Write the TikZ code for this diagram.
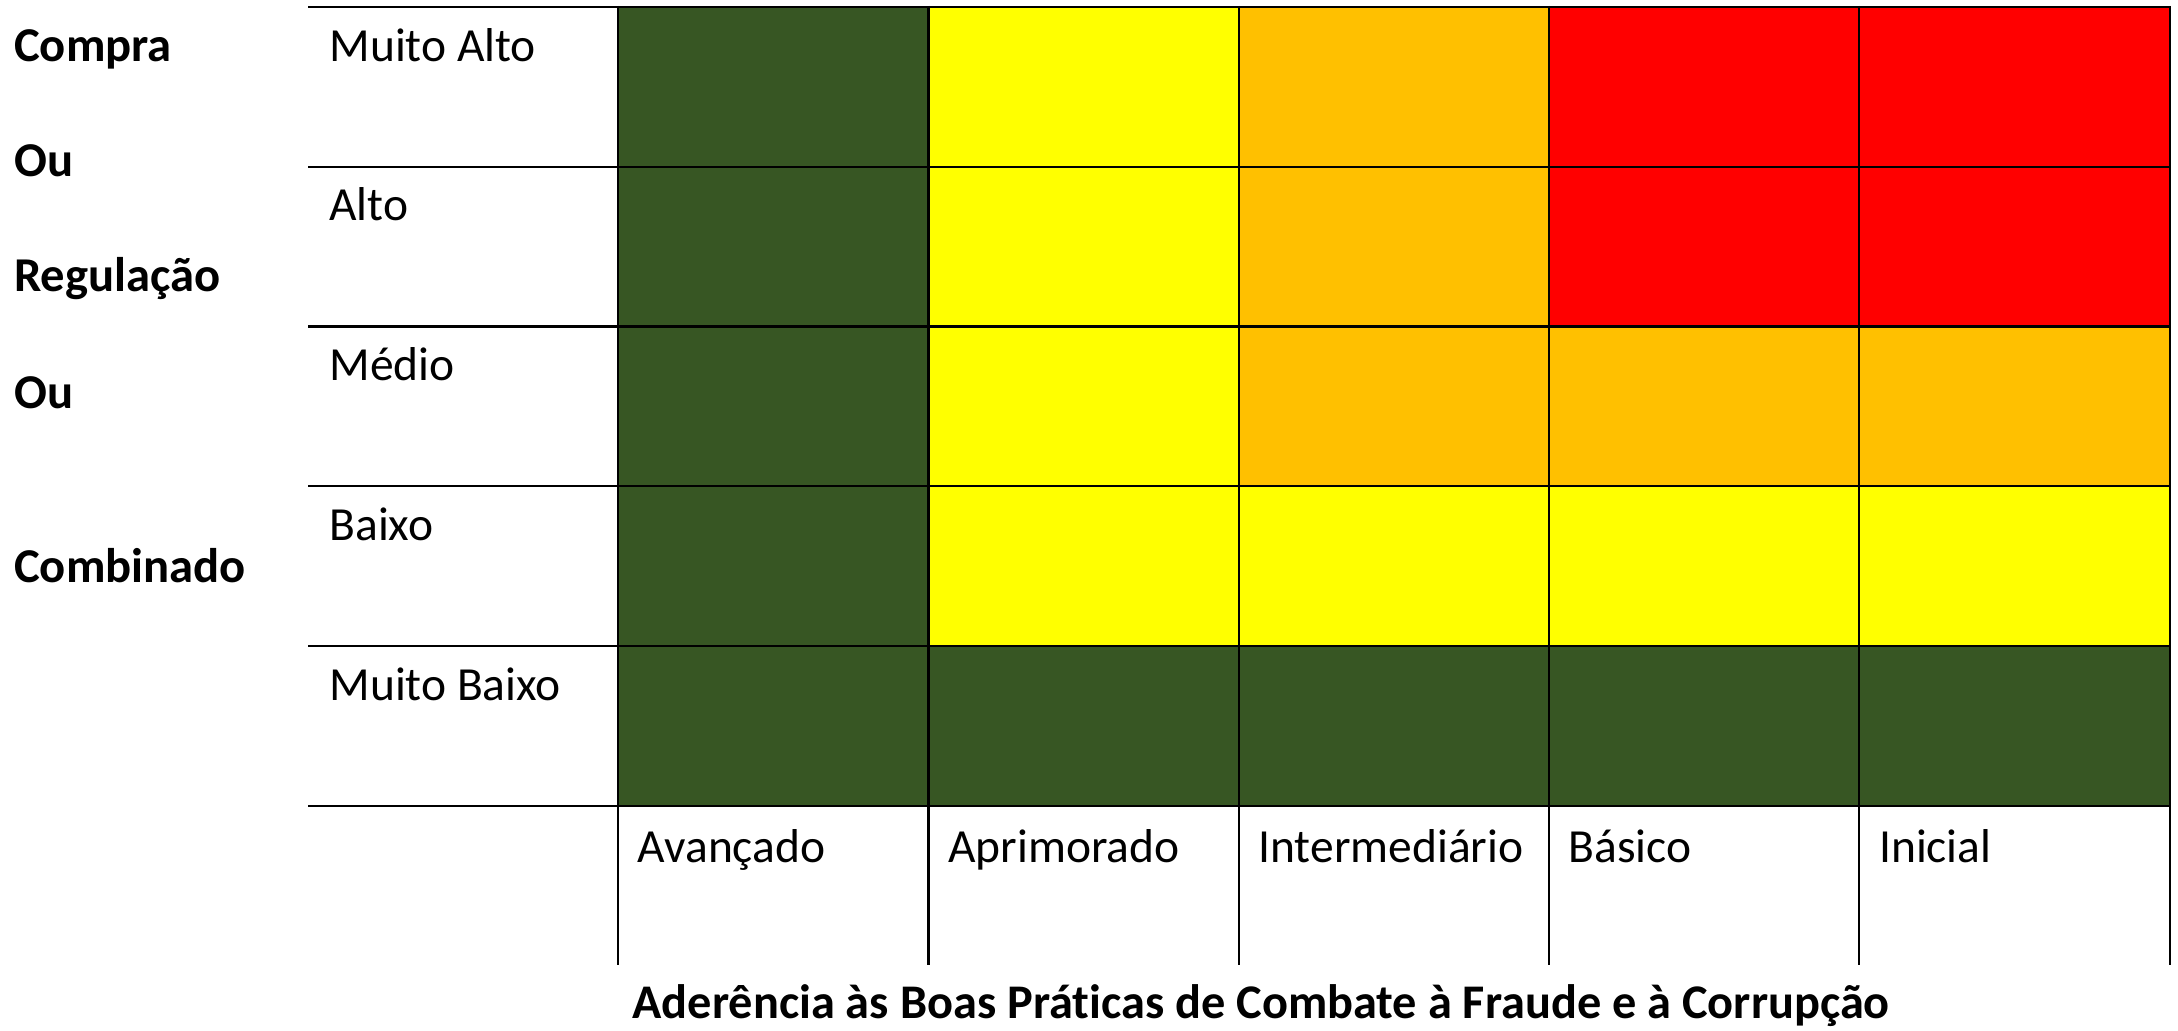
\documentclass[tikz,border=0pt]{standalone}
\usepackage{fontspec}
\setmainfont{Carlito}[Ligatures=NoCommon]
\definecolor{cgreen}{RGB}{55,86,35}
\definecolor{cyellow}{RGB}{255,255,0}
\definecolor{corange}{RGB}{255,192,0}
\definecolor{cred}{RGB}{255,0,0}
\begin{document}
\begin{tikzpicture}[x=1pt,y=-1pt,
  gridline/.style={line width=1.6pt,black},
  lbl/.style={inner sep=0pt,anchor=base west,font=\fontsize{34.2}{40}\selectfont},
  blbl/.style={inner sep=0pt,anchor=base west,font=\fontsize{35}{40}\selectfont\bfseries},
  title/.style={inner sep=0pt,anchor=base,font=\fontsize{34.8}{40}\selectfont\bfseries}]
\useasboundingbox (0,0) rectangle (1568,742);
\def\cw{223.4}
\def\rh{115}
% cells: colour matrix
\foreach \r/\cols in {0/{cgreen,cyellow,corange,cred,cred},
                      1/{cgreen,cyellow,corange,cred,cred},
                      2/{cgreen,cyellow,corange,corange,corange},
                      3/{cgreen,cyellow,cyellow,cyellow,cyellow},
                      4/{cgreen,cgreen,cgreen,cgreen,cgreen}}{
  \foreach \c [count=\j from 0] in \cols {
    \fill[\c] ({445+\j*\cw},{5+\r*\rh}) rectangle ({445+(\j+1)*\cw},{5+(\r+1)*\rh});
  }
}
% horizontal lines
\foreach \r in {0,...,5}{
  \draw[gridline] (222,{5+\r*\rh}) -- (1562,{5+\r*\rh});
}
% vertical lines
\foreach \j in {0,...,5}{
  \draw[gridline] ({445+\j*\cw},4.2) -- ({445+\j*\cw},695);
}
% row labels
\node[lbl] (r1) at (237,44) {Muito Alto};
\node[lbl] (r2) at (237,159) {Alto};
\node[lbl] (r3) at (237,274) {Médio};
\node[lbl] (r4) at (237,389) {Baixo};
\node[lbl] (r5) at (237,504) {Muito Baixo};
% column labels
\node[lbl] (c1) at ({445+0*\cw+14},621) {Avançado};
\node[lbl] (c2) at ({445+1*\cw+14},621) {Aprimorado};
\node[lbl] (c3) at ({445+2*\cw+14},621) {Intermediário};
\node[lbl] (c4) at ({445+3*\cw+14},621) {Básico};
\node[lbl] (c5) at ({445+4*\cw+14},621) {Inicial};
% left axis labels
\node[blbl] (l1) at (10,44) {Compra};
\node[blbl] (l2) at (10,127) {Ou};
\node[blbl] (l3) at (10,210) {Regulação};
\node[blbl] (l4) at (10,294) {Ou};
\node[blbl] (l5) at (10,419) {Combinado};
% bottom title
\node[title] (t) at (908,733) {Aderência às Boas Prát\kern0pt icas de Combate à Fraude e à Corrupção};
\end{tikzpicture}
\end{document}
